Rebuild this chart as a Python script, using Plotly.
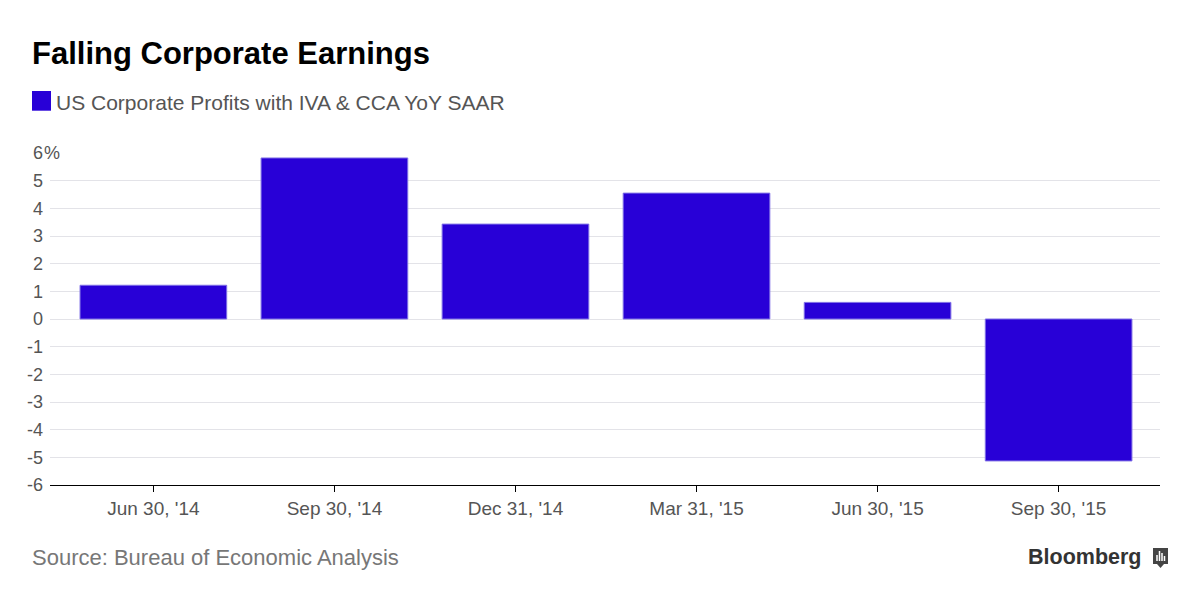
import plotly.graph_objects as go

# ---- data ----
categories = ["Jun 30, '14", "Sep 30, '14", "Dec 31, '14", "Mar 31, '15", "Jun 30, '15", "Sep 30, '15"]
values = [1.22, 5.82, 3.43, 4.55, 0.60, -5.13]
series_name = "US Corporate Profits with IVA & CCA YoY SAAR"
y_tickvals = [-6, -5, -4, -3, -2, -1, 0, 1, 2, 3, 4, 5, 6]
y_ticktext = ["-6", "-5", "-4", "-3", "-2", "-1", "0", "1", "2", "3", "4", "5", "6"]
title_text = "Falling Corporate Earnings"
source_text = "Source: Bureau of Economic Analysis"

# page has an 8px body margin; work in page coordinates and convert
O = 8
W, H = 1200 - O, 601 - O
PL, PR, PT, PB = 50, 1160, 153, 485          # plot area in page pixels
ML, MR, MT, MB = PL - O, W - (PR - O), PT - O, H - (PB - O)
PW = PR - PL
PH = PB - PT


def px(x):
    return (x - PL) / PW


def py(y):
    return (PB - y) / PH


BAR = "#2800d7"
FONT = "Liberation Sans, Arial, sans-serif"

fig = go.Figure()
fig.add_trace(go.Bar(
    x=categories, y=values, name=series_name,
    marker=dict(color=BAR, line=dict(color="#7f6fe6", width=1)),
    width=0.81, showlegend=False, hoverinfo="x+y",
))

fig.update_layout(
    width=W, height=H,
    margin=dict(l=ML, r=MR, t=MT, b=MB, pad=0),
    paper_bgcolor="white", plot_bgcolor="white",
    font=dict(family=FONT, color="#555555"),
    xaxis=dict(
        type="category", range=[-0.571, 5.56],
        showgrid=False, showline=True, linecolor="#000000", linewidth=1,
        ticks="outside", ticklen=6, tickcolor="#000000", tickwidth=1,
        tickfont=dict(size=19, color="#555555"), ticklabelstandoff=0,
    ),
    yaxis=dict(
        range=[-6, 6], tickvals=y_tickvals, ticktext=y_ticktext,
        showgrid=True, gridcolor="#e3e3e8", gridwidth=1, zeroline=False,
        showline=False, ticks="", tickfont=dict(size=18, color="#555555"),
        ticklabelstandoff=6,
    ),
)

annotations = [
    dict(text="<b>" + title_text + "</b>", xref="paper", yref="paper",
         x=px(30), y=py(53.6), xanchor="left", yanchor="middle", showarrow=False,
         font=dict(size=31, color="#000000", family=FONT)),
    dict(text=series_name, xref="paper", yref="paper",
         x=px(54), y=py(102), xanchor="left", yanchor="middle", showarrow=False,
         font=dict(size=21, color="#555555", family=FONT)),
    dict(text="%", xref="paper", yref="paper",
         x=px(42), y=1.0, xanchor="left", yanchor="middle", showarrow=False,
         borderpad=1,
         font=dict(size=18, color="#555555", family=FONT)),
    dict(text=source_text, xref="paper", yref="paper",
         x=px(30), y=py(557), xanchor="left", yanchor="middle", showarrow=False,
         font=dict(size=22, color="#777777", family=FONT)),
    dict(text="<b>Bloomberg</b>", xref="paper", yref="paper",
         x=px(1143), y=py(557), xanchor="right", yanchor="middle", showarrow=False,
         font=dict(size=21.5, color="#333333", family=FONT)),
]
fig.update_layout(annotations=annotations)

shapes = [
    # mask gridline start behind the "%" of the top label
    dict(type="line", xref="paper", yref="paper", x0=px(49), x1=px(65), y0=1.0, y1=1.0,
         line=dict(color="white", width=3)),
    # legend swatch
    dict(type="rect", xref="paper", yref="paper", x0=px(32), x1=px(51), y0=py(110.7), y1=py(91),
         fillcolor=BAR, line=dict(width=0)),
    # bloomberg icon
    dict(type="rect", xref="paper", yref="paper", x0=px(1153), x1=px(1168), y0=py(564), y1=py(548),
         fillcolor="#444444", line=dict(width=0)),
    dict(type="path", xref="paper", yref="paper",
         path=f"M {px(1157)} {py(564)} L {px(1164)} {py(564)} L {px(1160.5)} {py(568)} Z",
         fillcolor="#444444", line=dict(width=0)),
]
for bx, top in [(1157, 555), (1159.5, 551), (1162, 553), (1164.5, 556)]:
    shapes.append(dict(type="line", xref="paper", yref="paper", x0=px(bx), x1=px(bx),
                       y0=py(561), y1=py(top), line=dict(color="white", width=1.5)))
fig.update_layout(shapes=shapes)

fig.write_html("out.html")
